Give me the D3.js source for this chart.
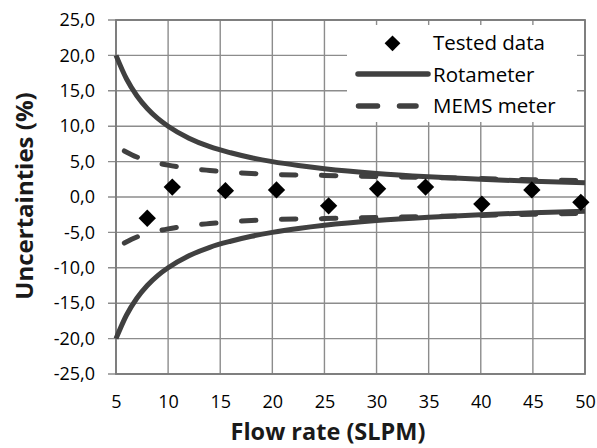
<!DOCTYPE html>
<html>
<head>
<meta charset="utf-8">
<script src="https://cdn.jsdelivr.net/npm/d3@7/dist/d3.min.js"></script>
<style>
  html, body { margin: 0; padding: 0; background: #fff; }
  svg { display: block; }
  text { font-family: "Open Sans", sans-serif; }
</style>
</head>
<body>
<svg id="chart" width="597" height="448"></svg>
<script>
// ---- data ----
const xTicks = [5, 10, 15, 20, 25, 30, 35, 40, 45, 50];
const yTicks = [-25, -20, -15, -10, -5, 0, 5, 10, 15, 20, 25];

const testedFlow = [8, 10.4, 15.5, 20.4, 25.4, 30.1, 34.7, 40.1, 44.9, 49.6];
const testedUnc  = [-3.0, 1.4, 0.9, 1.0, -1.25, 1.15, 1.4, -1.0, 1.0, -0.75];

const rotaFlow  = [5, 6, 7, 8, 9, 10, 12, 14, 16, 18, 20, 22.5, 25, 30, 35, 40, 45, 50];
const rotaUpper = [20, 16.7, 14.3, 12.5, 11.1, 10, 8.3, 7.1, 6.25, 5.55, 5, 4.45, 4, 3.33, 2.86, 2.5, 2.22, 2];
const rotaLower = [-20, -16.7, -14.3, -12.5, -11.1, -10, -8.3, -7.1, -6.25, -5.55, -5, -4.45, -4, -3.33, -2.86, -2.5, -2.22, -2];

const memsFlow  = [5.8, 7, 8, 9, 10, 12, 14, 16, 18, 20, 25, 30, 35, 40, 45, 50];
const memsUpper = [6.5, 5.65, 5.2, 4.8, 4.5, 4.05, 3.75, 3.5, 3.33, 3.2, 3.05, 2.9, 2.75, 2.6, 2.45, 2.3];
const memsLower = [-6.5, -5.65, -5.2, -4.8, -4.5, -4.05, -3.75, -3.5, -3.33, -3.2, -3.05, -2.9, -2.75, -2.6, -2.45, -2.3];

const legendLabels = ["Tested data", "Rotameter", "MEMS meter"];

// ---- layout ----
const svg = d3.select("#chart");
const m = { left: 116, top: 20 };
const W = 469, H = 354;
const g = svg.append("g").attr("transform", `translate(${m.left},${m.top})`);

const x = d3.scaleLinear().domain([5, 50]).range([0, W]);
const y = d3.scaleLinear().domain([-25, 25]).range([H, 0]);

const loc = d3.formatLocale({ decimal: ",", thousands: ".", grouping: [3], currency: ["", ""], minus: "-" });
const fmtY = loc.format(".1f");

const gridColor = "#8c8c8c";
const lineColor = "#404040";

// grid
g.append("g").selectAll("line").data(xTicks).join("line")
  .attr("x1", d => x(d)).attr("x2", d => x(d))
  .attr("y1", 0).attr("y2", H)
  .attr("stroke", gridColor).attr("stroke-width", 1.4);
g.append("g").selectAll("line").data(yTicks).join("line")
  .attr("x1", -8).attr("x2", W)
  .attr("y1", d => y(d)).attr("y2", d => y(d))
  .attr("stroke", gridColor).attr("stroke-width", 1.4);

// border
g.append("rect").attr("x", 0).attr("y", 0).attr("width", W).attr("height", H)
  .attr("fill", "none").attr("stroke", "#7a7a7a").attr("stroke-width", 1.8);

// axes labels
const yAxis = g.append("g")
  .call(d3.axisLeft(y).tickValues(yTicks).tickFormat(fmtY).tickSize(0).tickPadding(21));
yAxis.select(".domain").remove();
yAxis.selectAll("text").attr("font-size", 18).attr("fill", "#000")
  .attr("font-family", "Open Sans, sans-serif");

const xAxis = g.append("g").attr("transform", `translate(0,${H})`)
  .call(d3.axisBottom(x).tickValues(xTicks).tickFormat(d => d).tickSize(0).tickPadding(21));
xAxis.select(".domain").remove();
xAxis.selectAll("text").attr("font-size", 18).attr("fill", "#000")
  .attr("font-family", "Open Sans, sans-serif");

// curves
function curve(xs, ys) {
  return d3.line().x((d, i) => x(xs[i])).y(d => y(d)).curve(d3.curveMonotoneX)(ys);
}
[rotaUpper, rotaLower].forEach(s => {
  g.append("path").attr("d", curve(rotaFlow, s))
    .attr("fill", "none").attr("stroke", lineColor).attr("stroke-width", 5)
    .attr("stroke-linecap", "butt");
});
[memsUpper, memsLower].forEach(s => {
  g.append("path").attr("d", curve(memsFlow, s))
    .attr("fill", "none").attr("stroke", lineColor).attr("stroke-width", 5)
    .attr("stroke-linecap", "round").attr("stroke-dasharray", "14.5,25.5");
});

// tested data diamonds
const diamond = d3.symbol().type(d3.symbolSquare).size(150);
g.append("g").selectAll("path").data(testedFlow).join("path")
  .attr("d", diamond)
  .attr("transform", (d, i) => `translate(${x(d)},${y(testedUnc[i])}) rotate(45)`)
  .attr("fill", "#000");

// legend
const lg = svg.append("g");
lg.append("rect").attr("x", 347).attr("y", 25).attr("width", 230).attr("height", 97).attr("fill", "#fff");
const lx = 433, lb = [50, 81.7, 112.7];
lg.append("path").attr("d", d3.symbol().type(d3.symbolSquare).size(125))
  .attr("transform", `translate(392.5,43.3) rotate(45)`).attr("fill", "#000");
lg.append("line").attr("x1", 358).attr("x2", 428).attr("y1", 74).attr("y2", 74)
  .attr("stroke", lineColor).attr("stroke-width", 5.5).attr("stroke-linecap", "round");
lg.append("line").attr("x1", 358.5).attr("x2", 416).attr("y1", 106).attr("y2", 106)
  .attr("stroke", lineColor).attr("stroke-width", 5.5).attr("stroke-linecap", "round")
  .attr("stroke-dasharray", "19,22");
lg.selectAll("text.leg").data(legendLabels).join("text").attr("class", "leg")
  .attr("x", lx).attr("y", (d, i) => lb[i])
  .attr("font-size", 20.5).attr("fill", "#000").text(d => d);

// axis titles
svg.append("text").attr("x", 328).attr("y", 440)
  .attr("text-anchor", "middle").attr("font-size", 23.5).attr("font-weight", "bold")
  .attr("fill", "#1a1a1a").text("Flow rate (SLPM)");
svg.append("text").attr("transform", "translate(33,196) rotate(-90)")
  .attr("text-anchor", "middle").attr("font-size", 24).attr("font-weight", "bold")
  .attr("fill", "#1a1a1a").text("Uncertainties (%)");
</script>
</body>
</html>
